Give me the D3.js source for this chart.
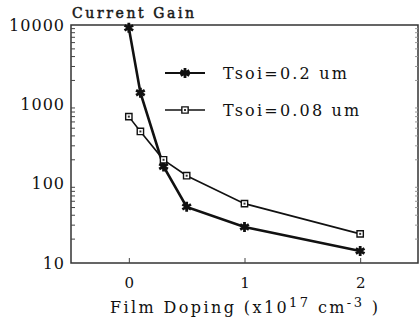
<!DOCTYPE html>
<html>
<head>
<meta charset="utf-8">
<script src="https://cdn.jsdelivr.net/npm/d3@7"></script>
<style>
  body { margin: 0; background: #fff; }
  text { font-family: "DejaVu Serif", serif; fill: #111; }
</style>
</head>
<body>
<div id="chart"></div>
<script>
// Data
var doping = [0, 0.1, 0.3, 0.5, 1, 2];
var gainThick = [9200, 1400, 165, 51, 28.5, 14.2];   // Tsoi=0.2 um
var gainThin = [700, 455, 200, 126, 56, 23.3];       // Tsoi=0.08 um
var seriesNames = ["Tsoi=0.2 um", "Tsoi=0.08 um"];
var xTicks = [0, 1, 2];
var yTicks = [10, 100, 1000, 10000];

var svgWidth = 420;
var svgHeight = 320;
var margin = { top: 25, right: 2, bottom: 57, left: 71 };
var width = svgWidth - margin.left - margin.right;
var height = svgHeight - margin.top - margin.bottom;

var svg = d3.select("#chart")
    .append("svg")
    .attr("width", svgWidth)
    .attr("height", svgHeight);

var chartGroup = svg.append("g")
    .attr("transform", `translate(${margin.left}, ${margin.top})`);

var xScale = d3.scaleLinear().domain([-0.5, 2.5]).range([0, width]);
var yScale = d3.scaleLog().domain([10, 10000]).range([height, 0]);

// frame
chartGroup.append("rect")
    .attr("width", width)
    .attr("height", height)
    .attr("fill", "none")
    .attr("stroke", "#333")
    .attr("stroke-width", 1.5);

// minor ticks on left and right (inward)
var minorTicks = [];
[10, 100, 1000].forEach(function(d) {
    for (var k = 2; k <= 9; k++) minorTicks.push(d * k);
});
chartGroup.selectAll(".minorL")
    .data(minorTicks)
    .enter()
    .append("line")
    .attr("x1", 0).attr("x2", 4)
    .attr("y1", d => yScale(d)).attr("y2", d => yScale(d))
    .attr("stroke", "#444").attr("stroke-width", 1);
chartGroup.selectAll(".minorR")
    .data(minorTicks)
    .enter()
    .append("line")
    .attr("x1", width).attr("x2", width - 3)
    .attr("y1", d => yScale(d)).attr("y2", d => yScale(d))
    .attr("stroke", "#999").attr("stroke-width", 1);

// y tick labels
var leftAxis = d3.axisLeft(yScale)
    .tickValues(yTicks)
    .tickSize(0)
    .tickPadding(6)
    .tickFormat(d3.format("d"));
var yAxis = chartGroup.append("g").call(leftAxis);
yAxis.select(".domain").remove();
yAxis.selectAll("text")
    .style("font-family", "DejaVu Serif, serif")
    .style("font-size", "16px")
    .style("letter-spacing", "1px")
    .attr("fill", "#111");

// x axis ticks (inward) and labels
var bottomAxis = d3.axisBottom(xScale)
    .tickValues(xTicks)
    .tickSizeInner(-5)
    .tickSizeOuter(0)
    .tickPadding(14)
    .tickFormat(d3.format("d"));
var xAxis = chartGroup.append("g")
    .attr("transform", `translate(0, ${height})`)
    .call(bottomAxis);
xAxis.select(".domain").remove();
xAxis.selectAll("line").attr("stroke", "#444");
xAxis.selectAll("text")
    .style("font-family", "DejaVu Serif, serif")
    .style("font-size", "15px")
    .attr("fill", "#111");

// title
svg.append("text")
    .attr("x", 72)
    .attr("y", 18)
    .style("font-size", "14px")
    .style("letter-spacing", "2.6px")
    .attr("fill", "#222")
    .attr("stroke", "#222")
    .attr("stroke-width", 0.5)
    .text("Current Gain");

// x label
var xLabel = svg.append("text")
    .attr("x", 110)
    .attr("y", 313)
    .style("font-size", "16px")
    .style("letter-spacing", "2.4px");
xLabel.append("tspan").text("Film Doping (x10");
xLabel.append("tspan").attr("dy", -6).style("font-size", "13px").text("17");
xLabel.append("tspan").attr("dy", 6).text(" cm");
xLabel.append("tspan").attr("dy", -6).style("font-size", "13px").text("-3");
xLabel.append("tspan").attr("dy", 6).text("  )");

var line = d3.line()
    .x((d, i) => xScale(doping[i]))
    .y(d => yScale(d));

// series lines
chartGroup.append("path")
    .datum(gainThin)
    .attr("d", line)
    .attr("fill", "none")
    .attr("stroke", "#111")
    .attr("stroke-width", 1.6);
chartGroup.append("path")
    .datum(gainThick)
    .attr("d", line)
    .attr("fill", "none")
    .attr("stroke", "#111")
    .attr("stroke-width", 2.6);

var star = d3.symbol().type(d3.symbolAsterisk).size(70);
var square = d3.symbol().type(d3.symbolSquare).size(40);

function drawStar(g, x, y) {
    g.append("path")
        .attr("d", star())
        .attr("transform", `translate(${x}, ${y})`)
        .attr("fill", "none")
        .attr("stroke", "#111")
        .attr("stroke-width", 2.8);
}
function drawSquare(g, x, y) {
    g.append("path")
        .attr("d", square())
        .attr("transform", `translate(${x}, ${y})`)
        .attr("fill", "#fff")
        .attr("stroke", "#111")
        .attr("stroke-width", 1.4);
    g.append("rect")
        .attr("x", x - 1).attr("y", y - 1)
        .attr("width", 2).attr("height", 2)
        .attr("fill", "#333");
}

gainThick.forEach(function(d, i) {
    drawStar(chartGroup, xScale(doping[i]), yScale(d));
});
gainThin.forEach(function(d, i) {
    drawSquare(chartGroup, xScale(doping[i]), yScale(d));
});

// legend
var legend = svg.append("g");
[73, 110].forEach(function(y, i) {
    legend.append("line")
        .attr("x1", 165).attr("x2", 205)
        .attr("y1", y).attr("y2", y)
        .attr("stroke", "#111")
        .attr("stroke-width", i === 0 ? 1.8 : 1.4);
    if (i === 0) drawStar(legend, 185, y);
    else drawSquare(legend, 185, y);
    legend.append("text")
        .attr("x", 223)
        .attr("y", y)
        .attr("dy", "0.35em")
        .style("font-size", "16px")
        .style("letter-spacing", "2.2px")
        .text(seriesNames[i]);
});
</script>
</body>
</html>
